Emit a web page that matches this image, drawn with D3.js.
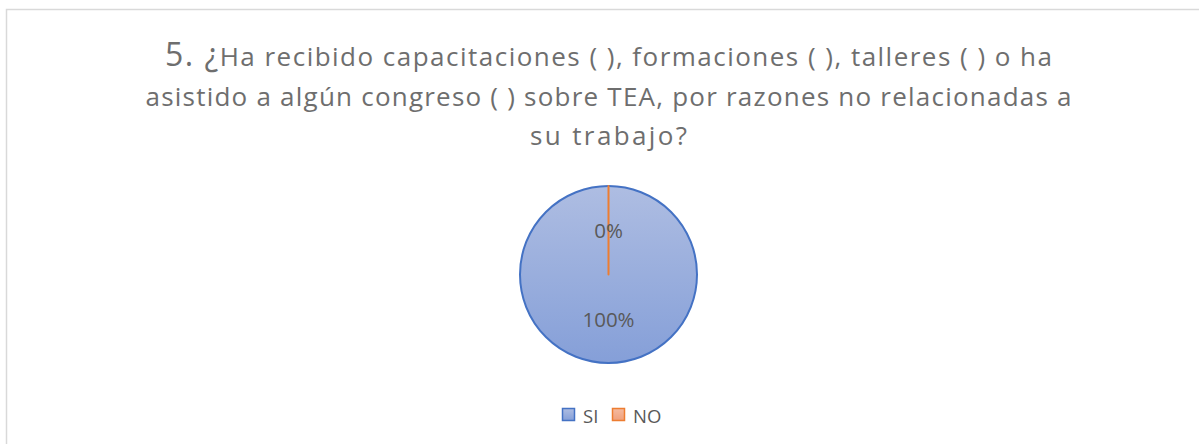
<!DOCTYPE html>
<html lang="es">
<head>
  <meta charset="UTF-8" />
  <title>Pregunta 5</title>
  <script src="https://d3js.org/d3.v7.min.js"></script>
  <style>
    body { margin: 0; background: #fff; overflow: hidden; }
    svg { display: block; font-family: "Open Sans", sans-serif; }
    .title { fill: #6e6e6e; font-size: 26px; }
    .title .big { font-size: 32px; }
    .lbl { fill: #595959; font-size: 20.5px; }
    .legend text { fill: #595959; font-size: 18.5px; }
  </style>
</head>
<body>
  <div id="chart"></div>
  <script>
    const categories = ['SI', 'NO'];
    const values = [100, 0];
    const colors = ['#4472c4', '#ed7d31'];
    const titleLines = [
      ['5. ¿', 'Ha recibido capacitaciones ( ), formaciones ( ), talleres ( ) o ha'],
      ['', 'asistido a algún congreso ( ) sobre TEA, por razones no relacionadas a'],
      ['', 'su trabajo?']
    ];
    const titleWidths = [887, 926, 157];

    const W = 1199, H = 444;
    const cx = 608.5, cy = 274.5, r = 88.5;

    const svg = d3.select('#chart').append('svg')
      .attr('width', W).attr('height', H);

    const defs = svg.append('defs');
    const grad = defs.append('linearGradient')
      .attr('id', 'gSi').attr('x1', 0).attr('y1', 0).attr('x2', 0).attr('y2', 1);
    grad.append('stop').attr('offset', '0%').attr('stop-color', '#aebde2');
    grad.append('stop').attr('offset', '100%').attr('stop-color', '#859fd8');
    const grad2 = defs.append('linearGradient')
      .attr('id', 'gNo').attr('x1', 0).attr('y1', 0).attr('x2', 0).attr('y2', 1);
    grad2.append('stop').attr('offset', '0%').attr('stop-color', '#f5bba0');
    grad2.append('stop').attr('offset', '100%').attr('stop-color', '#f0a07c');
    const fills = ['url(#gSi)', 'url(#gNo)'];

    // chart area border
    svg.append('rect')
      .attr('x', 6.5).attr('y', 9.5)
      .attr('width', 1300).attr('height', 600)
      .attr('fill', '#fff').attr('stroke', '#d9d9d9').attr('stroke-width', 1.5);

    // title
    const tl = svg.selectAll('.title')
      .data(titleLines)
      .join('text')
      .attr('class', 'title')
      .attr('x', cx)
      .attr('y', (d, i) => 66 + i * 39.5)
      .attr('text-anchor', 'middle')
      .attr('textLength', (d, i) => titleWidths[i])
      .attr('lengthAdjust', 'spacing');
    tl.append('tspan').attr('class', 'big').text(d => d[0]);
    tl.append('tspan').text(d => d[1]);

    const pie = d3.pie().sort(null).value(d => d.v);
    const arcs = pie(categories.map((c, i) => ({ c, v: values[i], i })));
    const arc = d3.arc().innerRadius(0).outerRadius(r);
    const labelArc = d3.arc().innerRadius(r * 0.5).outerRadius(r * 0.5);

    const g = svg.append('g').attr('transform', `translate(${cx},${cy})`);

    g.selectAll('path.slice')
      .data(arcs)
      .join('path')
      .attr('class', 'slice')
      .attr('d', arc)
      .attr('fill', d => fills[d.data.i])
      .attr('stroke', d => colors[d.data.i])
      .attr('stroke-width', 2)
      .attr('stroke-linejoin', 'round');

    g.selectAll('text.lbl')
      .data(arcs)
      .join('text')
      .attr('class', 'lbl')
      .attr('transform', d => {
        const [x, y] = labelArc.centroid(d);
        return `translate(${x},${y + 1})`;
      })
      .attr('text-anchor', 'middle')
      .attr('dy', '0.35em')
      .text(d => d3.format('.0%')(d.data.v / d3.sum(values)));

    // legend
    const legend = svg.append('g').attr('class', 'legend');
    const lx = [562, 612];
    const item = legend.selectAll('g')
      .data(categories)
      .join('g')
      .attr('transform', (d, i) => `translate(${lx[i]},408)`);
    item.append('rect')
      .attr('x', 0.5).attr('y', 0.5)
      .attr('width', 12).attr('height', 12)
      .attr('fill', (d, i) => fills[i])
      .attr('stroke', (d, i) => colors[i]).attr('stroke-width', 1.5);
    item.append('text')
      .attr('x', 21).attr('y', 14.5)
      .text(d => d);
  </script>
</body>
</html>
